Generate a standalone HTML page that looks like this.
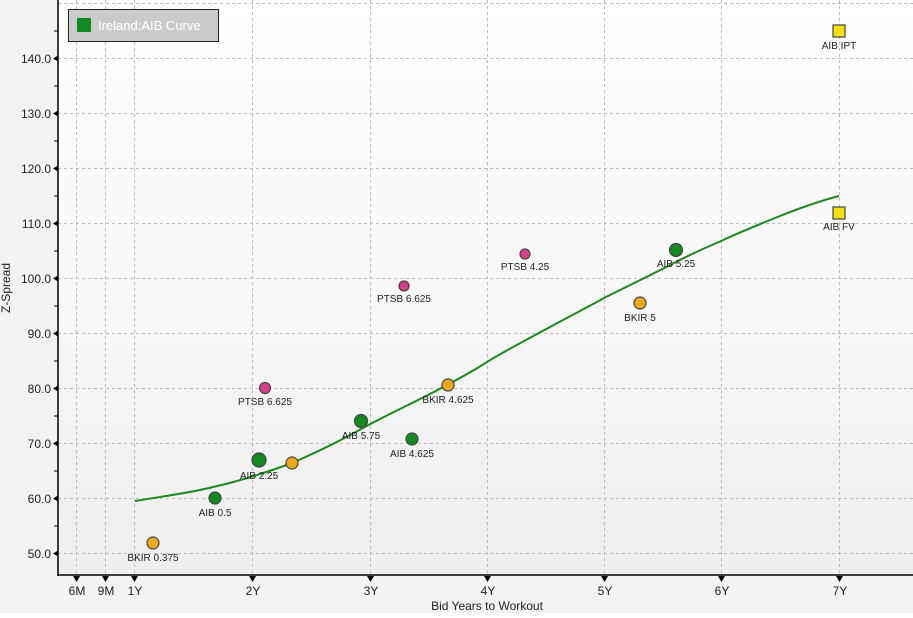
<!DOCTYPE html>
<html><head><style>
body{margin:0;width:913px;height:613px;overflow:hidden;font-family:"Liberation Sans",sans-serif}
</style></head><body>
<svg width="913" height="613" xmlns="http://www.w3.org/2000/svg" font-family="Liberation Sans, sans-serif">
<defs><linearGradient id="g" x1="0" y1="0" x2="0" y2="1"><stop offset="0" stop-color="#ffffff"/><stop offset="1" stop-color="#efefef"/></linearGradient></defs>
<rect width="913" height="613" fill="#f3f3f3"/>
<rect x="58" y="0" width="855" height="575" fill="url(#g)"/>
<g stroke="#bbb" stroke-dasharray="3,3" stroke-width="1">
<line x1="76.5" y1="0" x2="76.5" y2="575"/><line x1="105.5" y1="0" x2="105.5" y2="575"/><line x1="134.5" y1="0" x2="134.5" y2="575"/>
<line x1="252.5" y1="0" x2="252.5" y2="575"/><line x1="370.5" y1="0" x2="370.5" y2="575"/><line x1="487.5" y1="0" x2="487.5" y2="575"/>
<line x1="604.5" y1="0" x2="604.5" y2="575"/><line x1="721.5" y1="0" x2="721.5" y2="575"/><line x1="839.5" y1="0" x2="839.5" y2="575"/>
<line x1="58" y1="3.5" x2="913" y2="3.5"/><line x1="58" y1="58.5" x2="913" y2="58.5"/><line x1="58" y1="113.5" x2="913" y2="113.5"/>
<line x1="58" y1="168.5" x2="913" y2="168.5"/><line x1="58" y1="223.5" x2="913" y2="223.5"/><line x1="58" y1="278.5" x2="913" y2="278.5"/>
<line x1="58" y1="333.5" x2="913" y2="333.5"/><line x1="58" y1="388.5" x2="913" y2="388.5"/><line x1="58" y1="443.5" x2="913" y2="443.5"/>
<line x1="58" y1="498.5" x2="913" y2="498.5"/><line x1="58" y1="553.5" x2="913" y2="553.5"/>
</g>
<g stroke="#000" stroke-width="1.5"><line x1="58" y1="0" x2="58" y2="576"/><line x1="57" y1="575" x2="913" y2="575"/></g>
<g stroke="#000" stroke-width="1">
<line x1="54" y1="31" x2="58" y2="31"/><line x1="54" y1="86" x2="58" y2="86"/><line x1="54" y1="141" x2="58" y2="141"/><line x1="54" y1="196" x2="58" y2="196"/><line x1="54" y1="251" x2="58" y2="251"/><line x1="54" y1="306" x2="58" y2="306"/><line x1="54" y1="361" x2="58" y2="361"/><line x1="54" y1="416" x2="58" y2="416"/><line x1="54" y1="471" x2="58" y2="471"/><line x1="54" y1="526" x2="58" y2="526"/>
</g>
<g fill="#000">
<path d="M53 58.5l5-3v6z"/><path d="M53 113.5l5-3v6z"/><path d="M53 168.5l5-3v6z"/><path d="M53 223.5l5-3v6z"/><path d="M53 278.5l5-3v6z"/><path d="M53 333.5l5-3v6z"/><path d="M53 388.5l5-3v6z"/><path d="M53 443.5l5-3v6z"/><path d="M53 498.5l5-3v6z"/><path d="M53 553.5l5-3v6z"/>
<path d="M73 576h7l-3.5 6z"/><path d="M102 576h7l-3.5 6z"/><path d="M131 576h7l-3.5 6z"/><path d="M249 576h7l-3.5 6z"/><path d="M367 576h7l-3.5 6z"/><path d="M484 576h7l-3.5 6z"/><path d="M601 576h7l-3.5 6z"/><path d="M718 576h7l-3.5 6z"/><path d="M836 576h7l-3.5 6z"/>
</g>
<g font-size="12" fill="#222" text-anchor="end">
<text x="51" y="63">140.0</text><text x="51" y="118">130.0</text><text x="51" y="173">120.0</text><text x="51" y="228">110.0</text><text x="51" y="283">100.0</text><text x="51" y="338">90.0</text><text x="51" y="393">80.0</text><text x="51" y="448">70.0</text><text x="51" y="503">60.0</text><text x="51" y="558">50.0</text>
</g>
<g font-size="12" fill="#222" text-anchor="middle">
<text x="77" y="595">6M</text><text x="106" y="595">9M</text><text x="135" y="595">1Y</text><text x="253" y="595">2Y</text><text x="371" y="595">3Y</text><text x="488" y="595">4Y</text><text x="605" y="595">5Y</text><text x="722" y="595">6Y</text><text x="840" y="595">7Y</text>
<text x="487" y="610">Bid Years to Workout</text>
</g>
<text transform="translate(10,288) rotate(-90)" font-size="12" fill="#222" text-anchor="middle">Z-Spread</text>
<path d="M135 501 C165 496 195 492 213 487 C240 481 265 473 292 463 C315 453 340 441 363 428 C390 413 420 400 447 385 C460 378 475 370 487 362 C510 348 530 338 550 327 C570 316 590 306 604 298 C630 285 655 273 676 262 C695 252 710 246 721 241 C745 230 765 222 780 216 C800 208 820 201 839 196" fill="none" stroke="#1a8a1a" stroke-width="2"/>
<g stroke="#444" stroke-width="1.2">
<circle cx="153" cy="543" r="6" fill="#f0a818"/>
<circle cx="215" cy="498" r="6" fill="#138a20"/>
<circle cx="259" cy="460" r="7" fill="#138a20"/>
<circle cx="292" cy="463" r="6" fill="#f0a818"/>
<circle cx="265" cy="388" r="5.5" fill="#d8408a"/>
<circle cx="361" cy="421" r="6.5" fill="#138a20"/>
<circle cx="412" cy="439" r="6" fill="#138a20"/>
<circle cx="448" cy="385" r="6" fill="#f0a818"/>
<circle cx="404" cy="286" r="5" fill="#d8408a"/>
<circle cx="525" cy="254" r="5" fill="#d8408a"/>
<circle cx="676" cy="250" r="6.5" fill="#138a20"/>
<circle cx="640" cy="303" r="6" fill="#f0a818"/>
<rect x="833" y="25" width="12" height="12" fill="#f5e010"/>
<rect x="833" y="207" width="12" height="12" fill="#f5e010"/>
</g>
<g font-size="10" fill="#222" text-anchor="middle">
<text x="153" y="561">BKIR 0.375</text><text x="215" y="516">AIB 0.5</text><text x="259" y="479">AIB 2.25</text>
<text x="265" y="405">PTSB 6.625</text><text x="361" y="439">AIB 5.75</text><text x="412" y="457">AIB 4.625</text>
<text x="448" y="403">BKIR 4.625</text><text x="404" y="302">PTSB 6.625</text><text x="525" y="270">PTSB 4.25</text>
<text x="676" y="267">AIB 5.25</text><text x="640" y="321">BKIR 5</text><text x="839" y="49">AIB IPT</text><text x="839" y="230">AIB FV</text>
</g>
<rect x="68.5" y="9.5" width="150" height="32" fill="#cbcbcb" stroke="#222" stroke-width="1"/>
<rect x="77" y="18" width="14" height="14" fill="#0f8a1e"/>
<text x="98" y="30" font-size="13" fill="#fff">Ireland:AIB Curve</text>
</svg>
</body></html>
